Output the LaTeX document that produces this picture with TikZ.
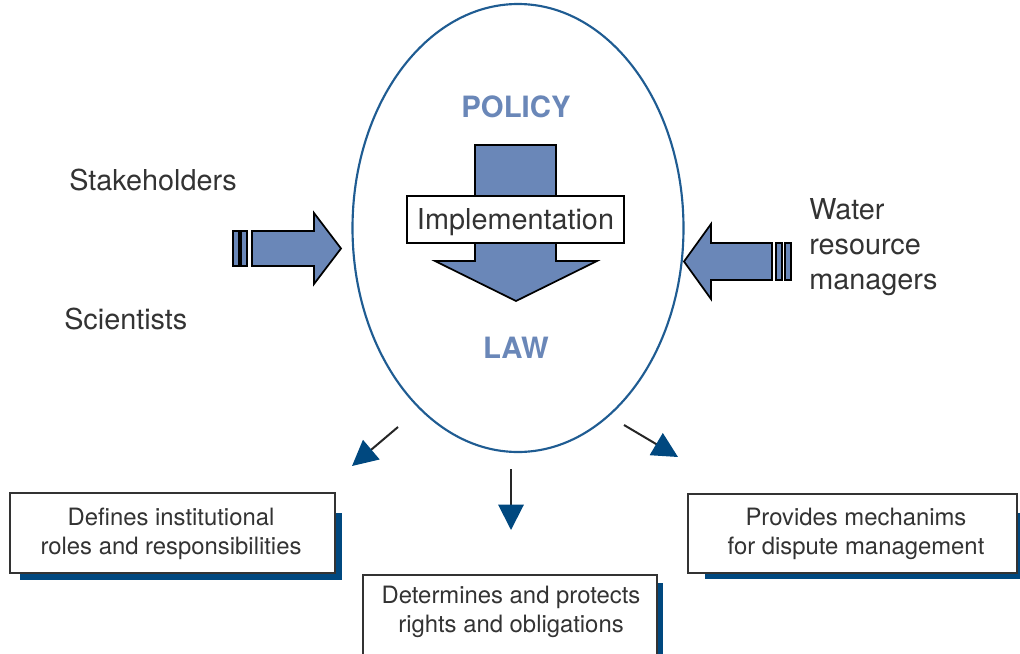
\documentclass[tikz,border=0pt]{standalone}
\usepackage{fontspec}
\setmainfont{TeX Gyre Heros}
\usetikzlibrary{arrows.meta,shapes.geometric}
\definecolor{ellblue}{HTML}{1F5C92}
\definecolor{steel}{HTML}{6A87B8}
\definecolor{navy}{HTML}{00487F}
\definecolor{txtgray}{HTML}{333333}
\begin{document}
\begin{tikzpicture}[x=0.75pt,y=-0.75pt,
  txt/.style={text=txtgray,font=\fontsize{21.6}{26.25}\selectfont,align=left,inner sep=0pt},
  boxtxt/.style={text=txtgray,font=\fontsize{17.9}{21.75}\selectfont,align=center,inner sep=0pt},
  title/.style={text=steel,font=\fontsize{22}{26}\selectfont\bfseries,inner sep=0pt},
  box/.style={draw=txtgray,line width=1.5pt,fill=white,rectangle,inner sep=0pt},
  shadowbox/.style={fill=navy},
  blockarrow/.style={draw=black,line width=1.3pt,fill=steel,line join=miter},
  conn/.style={draw=black!85,line width=1.5pt,-{Triangle[length=19pt,width=19pt,fill=navy,color=navy]}}
]
\useasboundingbox (0,0) rectangle (1020,653);

% central ellipse
\node (ell) [ellipse,draw=ellblue,line width=1.6pt,minimum width=248.25pt,minimum height=336pt,inner sep=0pt] at (518,228) {};

\node (policy) [title] at (516,107) {POLICY};
\node (law) [title] at (516,348) {LAW};

% down block arrow
\draw[blockarrow] (475,145) -- (556,145) -- (556,261) -- (597,261) -- (516,301) -- (435,261) -- (475,261) -- cycle;
\node (impl) [box,draw=black,minimum width=162.75pt,minimum height=35.25pt] at (515.5,219.5) {};
\node [txt,align=center] at (515.5,222.5) {Implementation};

% left block arrow
\draw[blockarrow] (233,231) rectangle (239,266);
\draw[blockarrow] (241,231) rectangle (247,266);
\draw[blockarrow] (252,231) -- (314,231) -- (314,213) -- (341,248.5) -- (314,284) -- (314,266) -- (252,266) -- cycle;

% right block arrow
\draw[blockarrow] (776,243) rectangle (782,280);
\draw[blockarrow] (785,243) rectangle (791,280);
\draw[blockarrow] (772,243) -- (711,243) -- (711,224) -- (684,261.5) -- (711,299) -- (711,280) -- (772,280) -- cycle;

% side texts
\node (stake) [txt,anchor=west] at (69,179.5) {Stakeholders};
\node (sci) [txt,anchor=west] at (64,318.5) {Scientists};
\node (water) [txt,anchor=west] at (809,247) {Water\\resource\\managers};

% bottom boxes with shadows
\fill[shadowbox] (20,513) rectangle (342,580);
\node (lbox) [box,minimum width=243.75pt,minimum height=60pt] at (172.5,533) {};
\node [boxtxt] at (171,534) {Defines institutional\\roles and responsibilities};

\fill[shadowbox] (370,583) rectangle (663,670);
\node (mbox) [box,minimum width=220.5pt,minimum height=70pt,anchor=north] at (510,574) {};
\node [boxtxt] at (511,612) {Determines and protects\\rights and obligations};

\fill[shadowbox] (705,513) rectangle (1022,579);
\node (rbox) [box,minimum width=246.75pt,minimum height=59.25pt] at (852.5,533.5) {};
\node [boxtxt] at (856,534) {Provides mechanims\\for dispute management};

% connectors
\coordinate (l0) at (398,427);
\coordinate (l1) at (352,466);
\coordinate (m0) at (511,469);
\coordinate (m1) at (511,530);
\coordinate (r0) at (624,425);
\coordinate (r1) at (678,457);
\draw[conn] (l0) -- (l1);
\draw[conn] (m0) -- (m1);
\draw[conn] (r0) -- (r1);
\end{tikzpicture}
\end{document}
